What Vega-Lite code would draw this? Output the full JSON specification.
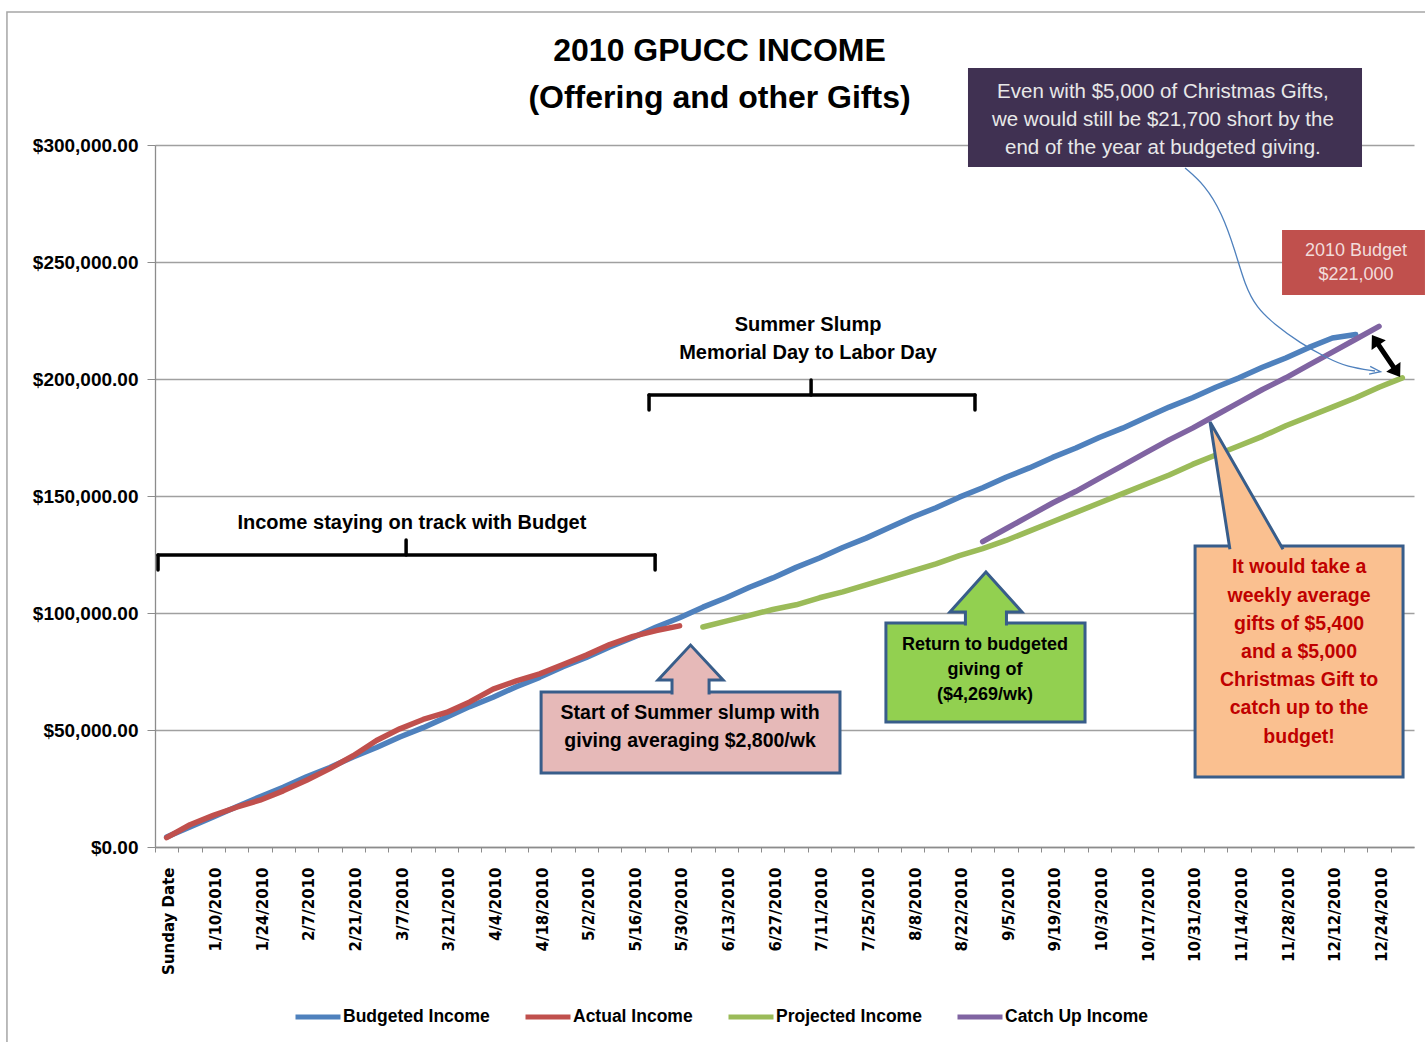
{
  "$schema": "https://vega.github.io/schema/vega-lite/v6.json",
  "width": 1259,
  "height": 702,
  "autosize": "none",
  "padding": {"left": 155, "top": 145, "right": 11, "bottom": 195},
  "background": "white",
  "title": {
    "text": ["2010 GPUCC INCOME", "(Offering and other Gifts)"],
    "font": "Liberation Sans",
    "fontSize": 32,
    "fontWeight": "bold",
    "color": "black",
    "anchor": "middle",
    "frame": "group",
    "dx": -65,
    "dy": 124,
    "lineHeight": 47,
    "offset": 20
  },
  "config": {"view": {"stroke": null}},
  "data": {
    "values": [
      {"week": 0, "date": "Sunday Date", "Budgeted Income": 4300, "Actual Income": 4000},
      {"week": 1, "date": "1/3/2010", "Budgeted Income": 8600, "Actual Income": 9500},
      {"week": 2, "date": "1/10/2010", "Budgeted Income": 12800, "Actual Income": 13500},
      {"week": 3, "date": "1/17/2010", "Budgeted Income": 17200, "Actual Income": 17000},
      {"week": 4, "date": "1/24/2010", "Budgeted Income": 21500, "Actual Income": 20000},
      {"week": 5, "date": "1/31/2010", "Budgeted Income": 25500, "Actual Income": 24000},
      {"week": 6, "date": "2/7/2010", "Budgeted Income": 30000, "Actual Income": 28500},
      {"week": 7, "date": "2/14/2010", "Budgeted Income": 34000, "Actual Income": 33500},
      {"week": 8, "date": "2/21/2010", "Budgeted Income": 38500, "Actual Income": 39000},
      {"week": 9, "date": "2/28/2010", "Budgeted Income": 42500, "Actual Income": 45500},
      {"week": 10, "date": "3/7/2010", "Budgeted Income": 47000, "Actual Income": 50500},
      {"week": 11, "date": "3/14/2010", "Budgeted Income": 51000, "Actual Income": 54500},
      {"week": 12, "date": "3/21/2010", "Budgeted Income": 55500, "Actual Income": 57500},
      {"week": 13, "date": "3/28/2010", "Budgeted Income": 60000, "Actual Income": 62000},
      {"week": 14, "date": "4/4/2010", "Budgeted Income": 64000, "Actual Income": 67500},
      {"week": 15, "date": "4/11/2010", "Budgeted Income": 68500, "Actual Income": 71000},
      {"week": 16, "date": "4/18/2010", "Budgeted Income": 72500, "Actual Income": 74000},
      {"week": 17, "date": "4/25/2010", "Budgeted Income": 77000, "Actual Income": 78000},
      {"week": 18, "date": "5/2/2010", "Budgeted Income": 81000, "Actual Income": 82000},
      {"week": 19, "date": "5/9/2010", "Budgeted Income": 85500, "Actual Income": 86500},
      {"week": 20, "date": "5/16/2010", "Budgeted Income": 89500, "Actual Income": 90000},
      {"week": 21, "date": "5/23/2010", "Budgeted Income": 94000, "Actual Income": 92500},
      {"week": 22, "date": "5/30/2010", "Budgeted Income": 98000, "Actual Income": 94500},
      {"week": 23, "date": "6/6/2010", "Budgeted Income": 102500, "Projected Income": 94000},
      {"week": 24, "date": "6/13/2010", "Budgeted Income": 106500, "Projected Income": 96500},
      {"week": 25, "date": "6/20/2010", "Budgeted Income": 111000, "Projected Income": 99000},
      {"week": 26, "date": "6/27/2010", "Budgeted Income": 115000, "Projected Income": 101500},
      {"week": 27, "date": "7/4/2010", "Budgeted Income": 119500, "Projected Income": 103500},
      {"week": 28, "date": "7/11/2010", "Budgeted Income": 123500, "Projected Income": 106500},
      {"week": 29, "date": "7/18/2010", "Budgeted Income": 128000, "Projected Income": 109000},
      {"week": 30, "date": "7/25/2010", "Budgeted Income": 132000, "Projected Income": 112000},
      {"week": 31, "date": "8/1/2010", "Budgeted Income": 136500, "Projected Income": 115000},
      {"week": 32, "date": "8/8/2010", "Budgeted Income": 141000, "Projected Income": 118000},
      {"week": 33, "date": "8/15/2010", "Budgeted Income": 145000, "Projected Income": 121000},
      {"week": 34, "date": "8/22/2010", "Budgeted Income": 149500, "Projected Income": 124500},
      {"week": 35, "date": "8/29/2010", "Budgeted Income": 153500, "Projected Income": 127500, "Catch Up Income": 130500},
      {"week": 36, "date": "9/5/2010", "Budgeted Income": 158000, "Projected Income": 131000, "Catch Up Income": 136000},
      {"week": 37, "date": "9/12/2010", "Budgeted Income": 162000, "Projected Income": 135000, "Catch Up Income": 141500},
      {"week": 38, "date": "9/19/2010", "Budgeted Income": 166500, "Projected Income": 139000, "Catch Up Income": 147000},
      {"week": 39, "date": "9/26/2010", "Budgeted Income": 170500, "Projected Income": 143000, "Catch Up Income": 152000},
      {"week": 40, "date": "10/3/2010", "Budgeted Income": 175000, "Projected Income": 147000, "Catch Up Income": 157500},
      {"week": 41, "date": "10/10/2010", "Budgeted Income": 179000, "Projected Income": 151000, "Catch Up Income": 163000},
      {"week": 42, "date": "10/17/2010", "Budgeted Income": 183500, "Projected Income": 155000, "Catch Up Income": 168500},
      {"week": 43, "date": "10/24/2010", "Budgeted Income": 188000, "Projected Income": 159000, "Catch Up Income": 174000},
      {"week": 44, "date": "10/31/2010", "Budgeted Income": 192000, "Projected Income": 163500, "Catch Up Income": 179000},
      {"week": 45, "date": "11/7/2010", "Budgeted Income": 196500, "Projected Income": 167500, "Catch Up Income": 184500},
      {"week": 46, "date": "11/14/2010", "Budgeted Income": 200500, "Projected Income": 171500, "Catch Up Income": 190000},
      {"week": 47, "date": "11/21/2010", "Budgeted Income": 205000, "Projected Income": 175500, "Catch Up Income": 195500},
      {"week": 48, "date": "11/28/2010", "Budgeted Income": 209000, "Projected Income": 180000, "Catch Up Income": 200500},
      {"week": 49, "date": "12/5/2010", "Budgeted Income": 213500, "Projected Income": 184000, "Catch Up Income": 206000},
      {"week": 50, "date": "12/12/2010", "Budgeted Income": 217500, "Projected Income": 188000, "Catch Up Income": 211500},
      {"week": 51, "date": "12/19/2010", "Budgeted Income": 219000, "Projected Income": 192000, "Catch Up Income": 217000},
      {"week": 52, "date": "12/24/2010", "Projected Income": 196500, "Catch Up Income": 222500},
      {"week": 53, "date": "12/31/2010", "Projected Income": 200500}
    ]
  },
  "encoding": {
    "x": {
      "field": "week",
      "type": "quantitative",
      "scale": {"domain": [-0.5, 53.5], "nice": false, "zero": false},
      "axis": {
        "title": null,
        "values": [0,1,2,3,4,5,6,7,8,9,10,11,12,13,14,15,16,17,18,19,20,21,22,23,24,25,26,27,28,29,30,31,32,33,34,35,36,37,38,39,40,41,42,43,44,45,46,47,48,49,50,51,52,53],
        "labelExpr": "['Sunday Date','','1/10/2010','','1/24/2010','','2/7/2010','','2/21/2010','','3/7/2010','','3/21/2010','','4/4/2010','','4/18/2010','','5/2/2010','','5/16/2010','','5/30/2010','','6/13/2010','','6/27/2010','','7/11/2010','','7/25/2010','','8/8/2010','','8/22/2010','','9/5/2010','','9/19/2010','','10/3/2010','','10/17/2010','','10/31/2010','','11/14/2010','','11/28/2010','','12/12/2010','','12/24/2010',''][datum.value]",
        "tickOffset": -11.66,
        "labelOffset": 14,
        "labelAngle": 270,
        "labelAlign": "right",
        "labelBaseline": "middle",
        "labelFont": "DejaVu Sans",
        "labelFontSize": 15,
        "labelFontWeight": "bold",
        "labelColor": "black",
        "labelPadding": 15,
        "tickSize": 5,
        "tickColor": "#8C8C8C",
        "domainColor": "#8C8C8C",
        "domainWidth": 1.3,
        "grid": false,
        "labelOverlap": false,
        "labelFlush": false,
        "labelBound": false
      }
    },
    "y": {
      "field": "amount",
      "type": "quantitative",
      "scale": {"domain": [0, 300000], "nice": false},
      "axis": {
        "title": null,
        "values": [0, 50000, 100000, 150000, 200000, 250000, 300000],
        "format": "$,.2f",
        "labelFont": "Liberation Sans",
        "labelFontSize": 19,
        "labelFontWeight": "bold",
        "labelColor": "black",
        "labelPadding": 9,
        "tickSize": 8,
        "tickColor": "#8C8C8C",
        "domainColor": "#8C8C8C",
        "domainWidth": 1.3,
        "grid": true,
        "gridColor": "#A0A0A0",
        "gridWidth": 1.3
      }
    }
  },
  "layer": [
    {
      "data": {"values": [{"week": -6.85, "week2": 80, "amount": 356837, "amount2": -100000}]},
      "mark": {"type": "rect", "fillOpacity": 0, "stroke": "#A6A6A6", "strokeWidth": 1.5},
      "encoding": {"x2": {"field": "week2"}, "y2": {"field": "amount2"}}
    },
    {
      "transform": [
        {"fold": ["Budgeted Income", "Actual Income", "Projected Income", "Catch Up Income"], "as": ["series", "amount"]},
        {"filter": "datum.amount != null"}
      ],
      "mark": {"type": "line", "strokeWidth": 5.5, "strokeCap": "round", "strokeJoin": "round"},
      "encoding": {
        "color": {
          "field": "series",
          "type": "nominal",
          "sort": ["Budgeted Income", "Actual Income", "Projected Income", "Catch Up Income"],
          "scale": {
            "domain": ["Budgeted Income", "Actual Income", "Projected Income", "Catch Up Income"],
            "range": ["#4F81BD", "#C0504D", "#9BBB59", "#8064A2"]
          },
          "legend": {
            "orient": "none",
            "legendX": 138,
            "legendY": 847,
            "direction": "horizontal",
            "title": null,
            "symbolType": "stroke",
            "symbolStrokeWidth": 5,
            "symbolSize": 2025,
            "labelFont": "Liberation Sans",
            "labelFontSize": 17.5,
            "labelFontWeight": "bold",
            "labelColor": "black",
            "labelOffset": 0,
            "columnPadding": 25,
            "labelLimit": 300
          }
        }
      }
    },
    {
      "data": {"values": [
        {"week": -0.37, "amount": 124786, "week2": 20.95, "amount2": 124786},
        {"week": -0.37, "amount": 124786, "week2": -0.37, "amount2": 118376},
        {"week": 20.95, "amount": 124786, "week2": 20.95, "amount2": 118376},
        {"week": 10.27, "amount": 124786, "week2": 10.27, "amount2": 131197},
        {"week": 20.69, "amount": 193162, "week2": 34.67, "amount2": 193162},
        {"week": 20.69, "amount": 193162, "week2": 20.69, "amount2": 186752},
        {"week": 34.67, "amount": 193162, "week2": 34.67, "amount2": 186752},
        {"week": 27.64, "amount": 193162, "week2": 27.64, "amount2": 199573}
      ]},
      "mark": {"type": "rule", "color": "black", "strokeWidth": 3.5, "strokeCap": "round"},
      "encoding": {"x2": {"field": "week2"}, "y2": {"field": "amount2"}}
    },
    {
      "data": {"values": [
        {"week": 10.52, "amount": 138462, "text": "Income staying on track with Budget"},
        {"week": 27.51, "amount": 223077, "text": "Summer Slump"},
        {"week": 27.51, "amount": 211111, "text": "Memorial Day to Labor Day"}
      ]},
      "mark": {"type": "text", "font": "Liberation Sans", "fontSize": 20, "fontWeight": "bold", "color": "black", "align": "center", "baseline": "middle"},
      "encoding": {"text": {"field": "text"}}
    },
    {
      "data": {"values": [
        {"week": 43.68, "amount": 290171}, {"week": 44.53, "amount": 282906}, {"week": 45.26, "amount": 270940},
        {"week": 45.82, "amount": 255128}, {"week": 46.25, "amount": 240000}, {"week": 46.75, "amount": 230500},
        {"week": 47.5, "amount": 223500}, {"week": 48.61, "amount": 215385}, {"week": 49.77, "amount": 208974},
        {"week": 50.63, "amount": 205128}, {"week": 51.83, "amount": 203419}
      ]},
      "mark": {"type": "line", "color": "#4F81BD", "strokeWidth": 1.3, "interpolate": "basis"},
      "encoding": {}
    },
    {
      "data": {"values": [{"week": 51.83, "amount": 203419}]},
      "mark": {"type": "point", "shape": "M-1,-0.7L1,0L-1,0.7", "filled": false, "stroke": "#4F81BD", "strokeWidth": 1.3, "size": 120, "angle": 8, "opacity": 1},
      "encoding": {}
    },
    {
      "data": {"values": [{"week": 34.37, "week2": 51.27, "amount": 332906, "amount2": 290598}]},
      "mark": {"type": "rect", "fill": "#403152"},
      "encoding": {"x2": {"field": "week2"}, "y2": {"field": "amount2"}}
    },
    {
      "data": {"values": [
        {"week": 42.73, "amount": 322650, "text": "Even with $5,000 of Christmas Gifts,"},
        {"week": 42.73, "amount": 310684, "text": "we would still be $21,700 short by the"},
        {"week": 42.73, "amount": 298718, "text": "end of the year at budgeted giving."}
      ]},
      "mark": {"type": "text", "font": "Liberation Sans", "fontSize": 20.5, "color": "#E8E8E8", "align": "center", "baseline": "middle"},
      "encoding": {"text": {"field": "text"}}
    },
    {
      "data": {"values": [{"week": 47.84, "week2": 53.97, "amount": 263675, "amount2": 235897}]},
      "mark": {"type": "rect", "fill": "#C0504D"},
      "encoding": {"x2": {"field": "week2"}, "y2": {"field": "amount2"}}
    },
    {
      "data": {"values": [
        {"week": 51.01, "amount": 254701, "text": "2010 Budget"},
        {"week": 51.01, "amount": 244444, "text": "$221,000"}
      ]},
      "mark": {"type": "text", "font": "Liberation Sans", "fontSize": 18, "color": "#F2DCDB", "align": "center", "baseline": "middle"},
      "encoding": {"text": {"field": "text"}}
    },
    {
      "data": {"values": [{"week": 52.3, "amount": 209829}]},
      "mark": {"type": "point", "shape": "M0,-1L0.34,-0.52L0.1,-0.52L0.1,0.52L0.34,0.52L0,1L-0.34,0.52L-0.1,0.52L-0.1,-0.52L-0.34,-0.52Z", "filled": true, "fill": "black", "size": 2550, "angle": 326, "opacity": 1},
      "encoding": {}
    },
    {
      "data": {"values": [{"week": 16.06, "week2": 28.88, "amount": 66239, "amount2": 31624}]},
      "mark": {"type": "rect", "fill": "#E6B9B8", "stroke": "#385D8A", "strokeWidth": 3},
      "encoding": {"x2": {"field": "week2"}, "y2": {"field": "amount2"}}
    },
    {
      "data": {"values": [{"week": 22.47, "amount": 76282}]},
      "mark": {"type": "point", "shape": "M0.57,0.8L0.57,0.35L1,0.35L0,-0.72L-1,0.35L-0.57,0.35L-0.57,0.8", "filled": true, "fill": "#E6B9B8", "stroke": "#385D8A", "strokeWidth": 3, "size": 4225, "opacity": 1},
      "encoding": {}
    },
    {
      "data": {"values": [
        {"week": 22.45, "amount": 57265, "text": "Start of Summer slump with"},
        {"week": 22.45, "amount": 45299, "text": "giving averaging $2,800/wk"}
      ]},
      "mark": {"type": "text", "font": "Liberation Sans", "fontSize": 19.5, "fontWeight": "bold", "color": "black", "align": "center", "baseline": "middle"},
      "encoding": {"text": {"field": "text"}}
    },
    {
      "data": {"values": [{"week": 30.85, "week2": 39.39, "amount": 95726, "amount2": 53419}]},
      "mark": {"type": "rect", "fill": "#92D050", "stroke": "#385D8A", "strokeWidth": 3},
      "encoding": {"x2": {"field": "week2"}, "y2": {"field": "amount2"}}
    },
    {
      "data": {"values": [{"week": 35.14, "amount": 106624}]},
      "mark": {"type": "point", "shape": "M0.57,0.78L0.57,0.4L1,0.4L0,-0.71L-1,0.4L-0.57,0.4L-0.57,0.78", "filled": true, "fill": "#92D050", "stroke": "#385D8A", "strokeWidth": 3, "size": 5184, "opacity": 1},
      "encoding": {}
    },
    {
      "data": {"values": [
        {"week": 35.1, "amount": 86325, "text": "Return to budgeted"},
        {"week": 35.1, "amount": 75641, "text": "giving of"},
        {"week": 35.1, "amount": 64957, "text": "($4,269/wk)"}
      ]},
      "mark": {"type": "text", "font": "Liberation Sans", "fontSize": 18, "fontWeight": "bold", "color": "black", "align": "center", "baseline": "middle"},
      "encoding": {"text": {"field": "text"}}
    },
    {
      "data": {"values": [{"week": 44.11, "week2": 53.03, "amount": 128632, "amount2": 29915}]},
      "mark": {"type": "rect", "fill": "#FAC090", "stroke": "#385D8A", "strokeWidth": 3},
      "encoding": {"x2": {"field": "week2"}, "y2": {"field": "amount2"}}
    },
    {
      "data": {"values": [{"week": 46.29, "amount": 155128}]},
      "mark": {"type": "point", "shape": "M0.58,1.02L-0.56,-0.97L-0.25,1.02", "filled": true, "fill": "#FAC090", "stroke": "#385D8A", "strokeWidth": 3, "size": 16384, "opacity": 1},
      "encoding": {}
    },
    {
      "data": {"values": [
        {"week": 48.57, "amount": 119658, "text": "It would take a"},
        {"week": 48.57, "amount": 107265, "text": "weekly average"},
        {"week": 48.57, "amount": 95299, "text": "gifts of $5,400"},
        {"week": 48.57, "amount": 83333, "text": "and a $5,000"},
        {"week": 48.57, "amount": 71368, "text": "Christmas Gift to"},
        {"week": 48.57, "amount": 59402, "text": "catch up to the"},
        {"week": 48.57, "amount": 47009, "text": "budget!"}
      ]},
      "mark": {"type": "text", "font": "Liberation Sans", "fontSize": 19.5, "fontWeight": "bold", "color": "#C00000", "align": "center", "baseline": "middle"},
      "encoding": {"text": {"field": "text"}}
    }
  ]
}
